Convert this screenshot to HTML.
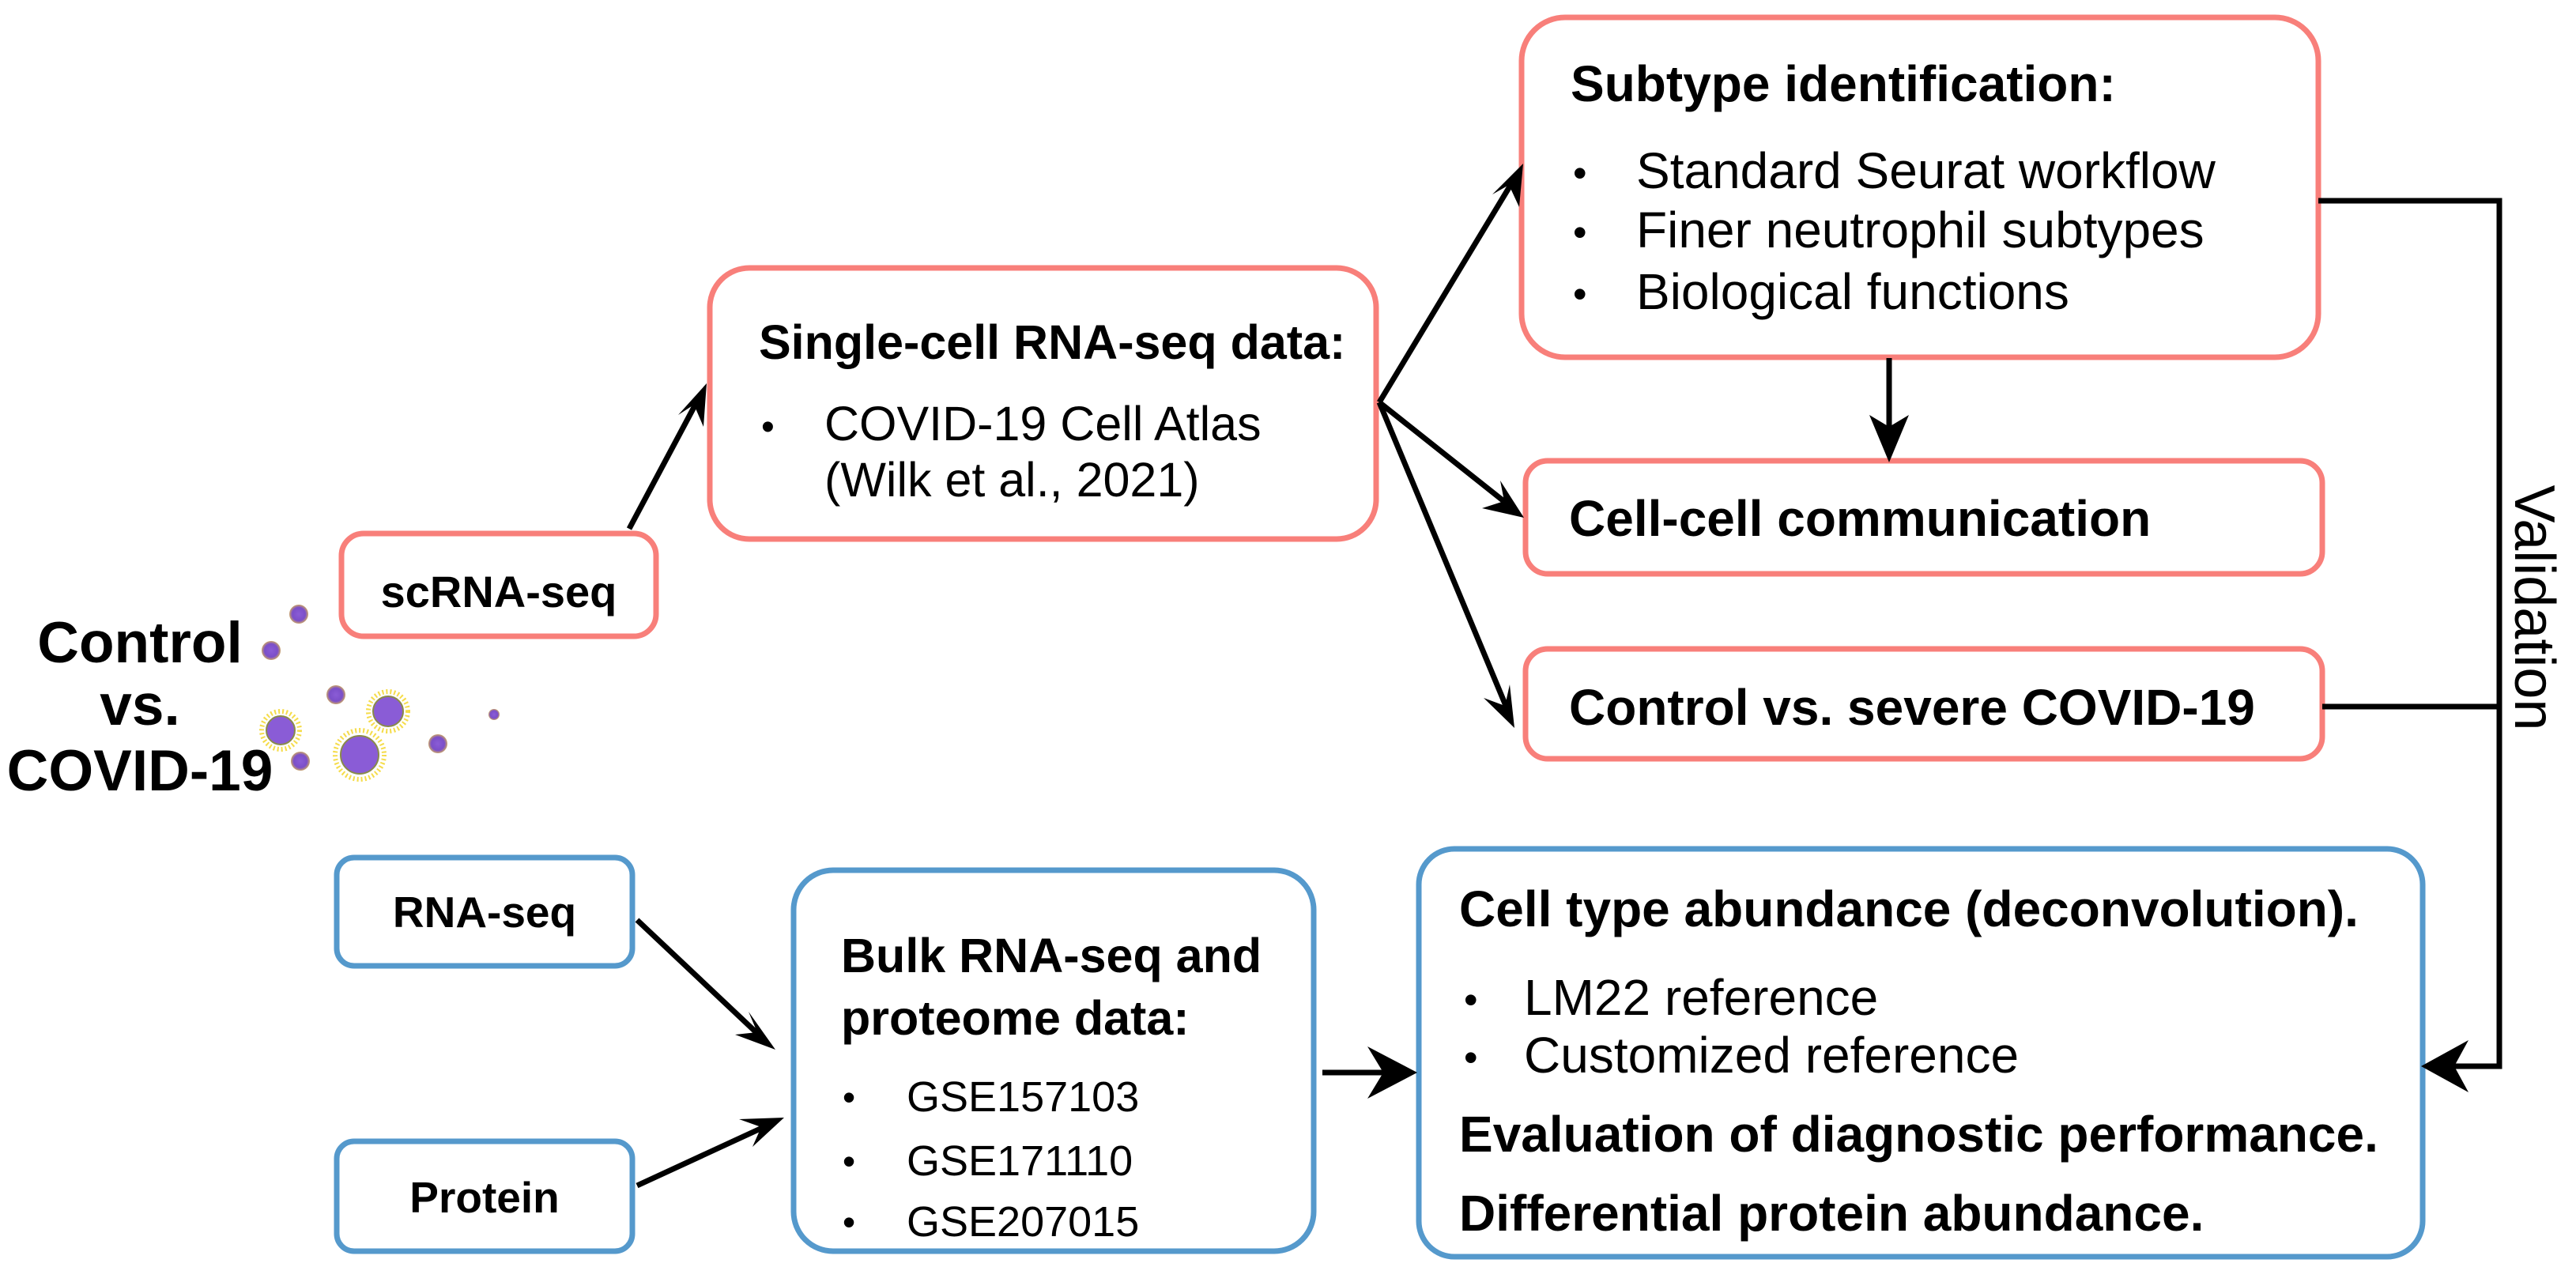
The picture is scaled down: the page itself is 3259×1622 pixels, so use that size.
<!DOCTYPE html>
<html><head><meta charset="utf-8"><style>
html,body{margin:0;padding:0;background:#fff;}
svg{display:block;}
text{font-family:"Liberation Sans",Arial,sans-serif;fill:#000;}
.b{font-weight:bold;}
</style></head><body>
<svg width="3259" height="1622" viewBox="0 0 3259 1622" xmlns="http://www.w3.org/2000/svg">
<defs>
<radialGradient id="vg"><stop offset="0" stop-color="#8a5cd6"/><stop offset="0.7" stop-color="#7b4fc8"/><stop offset="1" stop-color="#c9a36a"/></radialGradient>
</defs>
<g fill="none" stroke-width="7">
<rect x="432" y="675" width="398" height="130" rx="28" stroke="#f87f7a"/>
<rect x="898" y="339" width="843" height="343" rx="50" stroke="#f87f7a"/>
<rect x="1925" y="22" width="1008" height="430" rx="55" stroke="#f87f7a"/>
<rect x="1930" y="583" width="1008" height="143" rx="28" stroke="#f87f7a"/>
<rect x="1930" y="821" width="1008" height="139" rx="28" stroke="#f87f7a"/>
<rect x="426" y="1085" width="374" height="137" rx="22" stroke="#5599cc"/>
<rect x="426" y="1444" width="374" height="139" rx="22" stroke="#5599cc"/>
<rect x="1004" y="1101" width="658" height="482" rx="50" stroke="#5599cc"/>
<rect x="1795" y="1074" width="1270" height="516" rx="45" stroke="#5599cc"/>
</g>
<g stroke="#000" stroke-width="7" fill="none">
<line x1="796" y1="669" x2="885" y2="502"/>
<line x1="1745" y1="509" x2="1916" y2="226"/>
<line x1="1745" y1="509" x2="1905" y2="636"/>
<line x1="1745" y1="509" x2="1908" y2="900"/>
<line x1="2390" y1="453" x2="2390" y2="565"/>
<line x1="806" y1="1164" x2="965" y2="1314"/>
<line x1="806" y1="1500" x2="975" y2="1422"/>
<line x1="1673" y1="1357" x2="1782" y2="1357"/>
<polyline points="2933,254 3162,254 3162,1349 3075,1349"/>
<line x1="2938" y1="894" x2="3162" y2="894"/>
</g>
<g fill="#000">
<polygon points="894,485 890,540 878,512 858,525"/>
<polygon points="1927,207 1922,262 1909,234 1888,246"/>
<polygon points="1928,655 1875,643 1903,634 1898,608"/>
<polygon points="1916,921 1877,883 1904,893 1910,866"/>
<polygon points="2390,585 2365,525 2390,540 2415,525"/>
<polygon points="981,1328 930,1309 958,1306 947,1280"/>
<polygon points="992,1414 952,1451 963,1426 935,1416"/>
<polygon points="1793,1357 1730,1390 1750,1357 1730,1324"/>
<polygon points="3063,1349 3123,1316 3105,1349 3123,1382"/>
</g>
<g>
<g fill="none" stroke="#f5dc4a" stroke-width="6" stroke-dasharray="2 3">
<circle cx="491" cy="900" r="25"/><circle cx="455" cy="955" r="31"/><circle cx="355" cy="924" r="24"/>
</g>
<circle cx="378" cy="777" r="12" fill="url(#vg)"/>
<circle cx="343" cy="823" r="12" fill="url(#vg)"/>
<circle cx="425" cy="879" r="12" fill="url(#vg)"/>
<circle cx="491" cy="900" r="19" fill="#8a5cd6" stroke="#8a8a4a" stroke-width="2"/>
<circle cx="625" cy="904" r="7" fill="url(#vg)"/>
<circle cx="355" cy="924" r="18" fill="#8a5cd6" stroke="#8a8a4a" stroke-width="2"/>
<circle cx="455" cy="955" r="24" fill="#8a5cd6" stroke="#8a8a4a" stroke-width="2"/>
<circle cx="554" cy="941" r="12" fill="url(#vg)"/>
<circle cx="380" cy="963" r="12" fill="url(#vg)"/>
</g>
<text class="b" x="631" y="768" font-size="56" text-anchor="middle">scRNA-seq</text>
<text class="b" x="177" y="838" font-size="73" text-anchor="middle">Control</text>
<text class="b" x="177" y="917" font-size="73" text-anchor="middle">vs.</text>
<text class="b" x="177" y="1000" font-size="73" text-anchor="middle">COVID-19</text>
<text class="b" x="960" y="454" font-size="61">Single-cell RNA-seq data:</text>
<text x="963" y="556" font-size="48">•</text>
<text x="1043" y="557" font-size="61">COVID-19 Cell Atlas</text>
<text x="1043" y="628" font-size="61">(Wilk et al., 2021)</text>
<text class="b" x="1987" y="128" font-size="64">Subtype identification:</text>
<text x="1990" y="236" font-size="50">•</text>
<text x="2070" y="238" font-size="64">Standard Seurat workflow</text>
<text x="1990" y="311" font-size="50">•</text>
<text x="2070" y="313" font-size="64">Finer neutrophil subtypes</text>
<text x="1990" y="389" font-size="50">•</text>
<text x="2070" y="391" font-size="64">Biological functions</text>
<text class="b" x="1985" y="678" font-size="64">Cell-cell communication</text>
<text class="b" x="1985" y="917" font-size="64">Control vs. severe COVID-19</text>
<text x="3206" y="769" font-size="72" text-anchor="middle" transform="rotate(90 3206 769)" dy="24">Validation</text>
<text class="b" x="613" y="1173" font-size="55" text-anchor="middle">RNA-seq</text>
<text class="b" x="613" y="1534" font-size="55" text-anchor="middle">Protein</text>
<text class="b" x="1064" y="1230" font-size="61">Bulk RNA-seq and</text>
<text class="b" x="1064" y="1309" font-size="61">proteome data:</text>
<text x="1066" y="1404" font-size="46">•</text>
<text x="1147" y="1406" font-size="54">GSE157103</text>
<text x="1066" y="1485" font-size="46">•</text>
<text x="1147" y="1487" font-size="54">GSE171110</text>
<text x="1066" y="1562" font-size="46">•</text>
<text x="1147" y="1564" font-size="54">GSE207015</text>
<text class="b" x="1846" y="1172" font-size="64">Cell type abundance (deconvolution).</text>
<text x="1852" y="1282" font-size="50">•</text>
<text x="1928" y="1284" font-size="64">LM22 reference</text>
<text x="1852" y="1355" font-size="50">•</text>
<text x="1928" y="1357" font-size="64">Customized reference</text>
<text class="b" x="1846" y="1457" font-size="64">Evaluation of diagnostic performance.</text>
<text class="b" x="1846" y="1557" font-size="64">Differential protein abundance.</text>
</svg>
</body></html>
